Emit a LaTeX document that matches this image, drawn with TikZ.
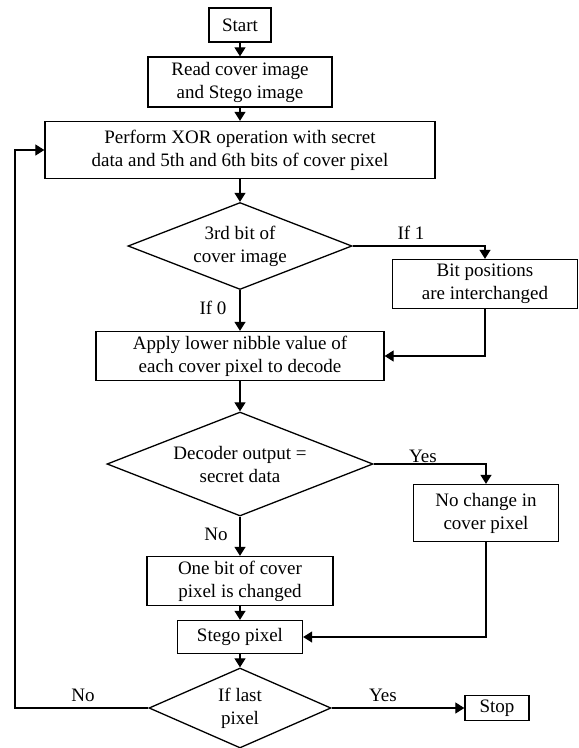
\documentclass[tikz,border=0pt]{standalone}
\usepackage{fontspec}
\setmainfont{Liberation Serif}
\usetikzlibrary{arrows.meta,shapes.geometric}

\tikzset{
  box/.style={draw, line width=1.3pt, align=center, inner sep=0pt},
  decide/.style={draw, diamond, line width=1.3pt, align=center, inner sep=0pt},
  flow/.style={line width=1.2pt, -{Triangle[length=9pt,width=11pt]}},
  tag/.style={inner sep=0pt}
}

\begin{document}
\begin{tikzpicture}[x=1pt, y=-1pt, font=\fontsize{19}{23}\selectfont]
  \useasboundingbox (0,0) rectangle (579,748);

  % Main column
  \node[box, minimum width=62, minimum height=34] (start) at (240,25) {Start};
  \node[box, minimum width=184, minimum height=50] (read) at (240,82) {Read cover image\\and Stego image};
  \node[box, minimum width=390, minimum height=57] (xor) at (240,150) {Perform XOR operation with secret\\data and 5th and 6th bits of cover pixel};
  \node[decide, minimum width=224, minimum height=87, aspect=2.6] (bitthree) at (240,246) {3rd bit of\\cover image};
  \node[box, minimum width=288, minimum height=49] (apply) at (240,356) {Apply lower nibble value of\\each cover pixel to decode};
  \node[decide, minimum width=266, minimum height=104, aspect=2.56] (decoder) at (240,464) {Decoder output =\\secret data};
  \node[box, minimum width=186, minimum height=49] (onebit) at (240,581) {One bit of cover\\pixel is changed};
  \node[box, minimum width=125, minimum height=33] (stego) at (240,637) {Stego pixel};
  \node[decide, minimum width=182, minimum height=80, aspect=2.3] (last) at (240,708) {If last\\pixel};

  % Side column
  \node[box, minimum width=185, minimum height=49] (swap) at (485,284) {Bit positions\\are interchanged};
  \node[box, minimum width=145, minimum height=57] (nochange) at (486,513) {No change in\\cover pixel};
  \node[box, minimum width=64, minimum height=25] (stop) at (497,708) {Stop};
  \coordinate (back) at (15,708);

  % Labels
  \node[tag] (ifone) at (411,233) {If 1};
  \node[tag] (ifzero) at (213,308) {If 0};
  \node[tag] (yesmatch) at (423,456) {Yes};
  \node[tag] (nomatch) at (216,534) {No};
  \node[tag] (nolast) at (83,695) {No};
  \node[tag] (yeslast) at (383,695) {Yes};

  % Connectors
  \draw[flow] (start) -- (read);
  \draw[flow] (read) -- (xor);
  \draw[flow] (xor) -- (bitthree);
  \draw[flow] (bitthree.east) -| (swap.north);
  \draw[flow] (bitthree.south) -- (apply.north);
  \draw[flow] (swap.south) |- (apply.east);
  \draw[flow] (apply) -- (decoder);
  \draw[flow] (decoder.east) -| (nochange.north);
  \draw[flow] (decoder.south) -- (onebit.north);
  \draw[flow] (onebit) -- (stego);
  \draw[flow] (nochange.south) |- (stego.east);
  \draw[flow] (stego) -- (last);
  \draw[flow] (last.west) -- (back) |- (xor.west);
  \draw[flow] (last.east) -- (stop.west);
\end{tikzpicture}
\end{document}
